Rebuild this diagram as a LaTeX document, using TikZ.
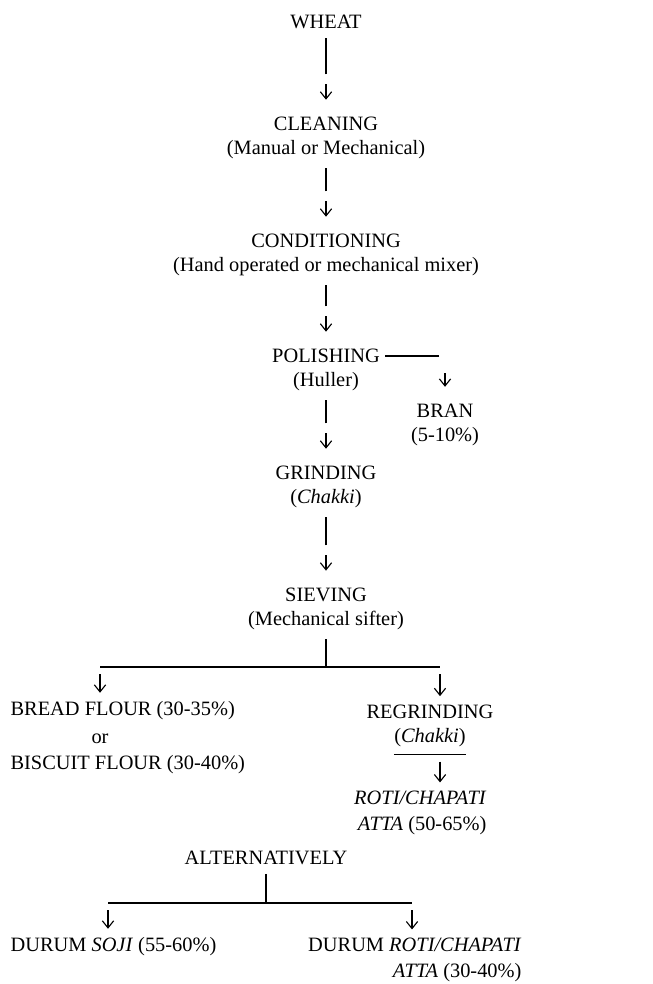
\documentclass[tikz,border=0pt]{standalone}
\usepackage{fontspec}
\setmainfont{Liberation Serif}
\usetikzlibrary{arrows.meta,positioning}

\begin{document}
\begin{tikzpicture}[x=0.025cm,y=-0.025cm,node distance=6pt,>={Straight Barb[length=5pt,width=8pt]},line width=0.8pt,
  stage/.style={inner sep=0pt,font=\fontsize{14.5}{18}\selectfont},
  flow/.style={<-,shorten <=12pt,shorten >=6pt,dash pattern=on 10pt off 7pt on 300pt},
  drop/.style={->,shorten <=5pt,shorten >=6pt}]
\useasboundingbox (0,0) rectangle (652,984);
\node[stage](wheat) at (326,22){WHEAT};
\node[stage](clean) at (326,124){CLEANING};
\node[stage,below=of clean](cleanN){(Manual or Mechanical)};
\node[stage](cond) at (326,241){CONDITIONING};
\node[stage,below=of cond](condN){(Hand operated or mechanical mixer)};
\node[stage](polish) at (326,356){POLISHING};
\node[stage,below=of polish](huller){(Huller)};
\node[stage](bran) at (445,411){BRAN};
\node[stage,below=of bran](branN){(5-10\%)};
\node[stage](grind) at (326,473){GRINDING};
\node[stage,below=of grind](chakki){(\textit{Chakki})};
\node[stage](sieve) at (326,595){SIEVING};
\node[stage,below=of sieve](sifter){(Mechanical sifter)};
\node[stage,anchor=west](bread) at (10,711){BREAD FLOUR (30-35\%)};
\node[stage](orN) at (100,739){or};
\node[stage,anchor=west](biscuit) at (10,765){BISCUIT FLOUR (30-40\%)};
\node[stage](regrind) at (430,712){REGRINDING};
\node[stage,below=of regrind](chakkiR){(\textit{Chakki})};
\node[stage,anchor=east,align=right](roti) at (487,813){\textit{ROTI/CHAPATI}\\\textit{ATTA} (50-65\%)};
\node[stage](alt) at (266,858){ALTERNATIVELY};
\node[stage,anchor=west](soji) at (10,947){DURUM \textit{SOJI} (55-60\%)};
\node[stage,anchor=east,align=right](durum) at (522,960){DURUM \textit{ROTI/CHAPATI}\\\textit{ATTA} (30-40\%)};
% branch points
\coordinate (split) at (326,667);
\coordinate (lft) at (100,667);
\coordinate (rgt) at (440,667);
\coordinate (split2) at (266,903);
\coordinate (lft2) at (108,903);
\coordinate (rgt2) at (412,903);
% main line (drawn upwards so the gap sits above each arrow head)
\draw[flow](clean)--(wheat);
\draw[flow](cond)--(cleanN);
\draw[flow](polish)--(condN);
\draw[flow](grind)--(huller);
\draw[flow](sieve)--(chakki);
\draw[<-,shorten <=12pt,shorten >=3pt,dash pattern=on 9pt off 16pt on 300pt](bran)|-(polish);
% sieving split
\draw[shorten <=6pt](sifter)--(split);
\draw(lft)--(rgt);
\draw[drop](lft)--(lft|-bread.north);
\draw[drop](rgt)--(rgt|-regrind.north);
\draw([yshift=-5pt]chakkiR.south west)coordinate(bar)--([yshift=-5pt]chakkiR.south east);
\draw[drop](bar-|rgt)--(rgt|-roti.north);
% alternative
\draw[shorten <=6pt](alt)--(split2);
\draw(lft2)--(rgt2);
\draw[drop](lft2)--(lft2|-soji.north);
\draw[drop](rgt2)--(rgt2|-durum.north);
\end{tikzpicture}
\end{document}
